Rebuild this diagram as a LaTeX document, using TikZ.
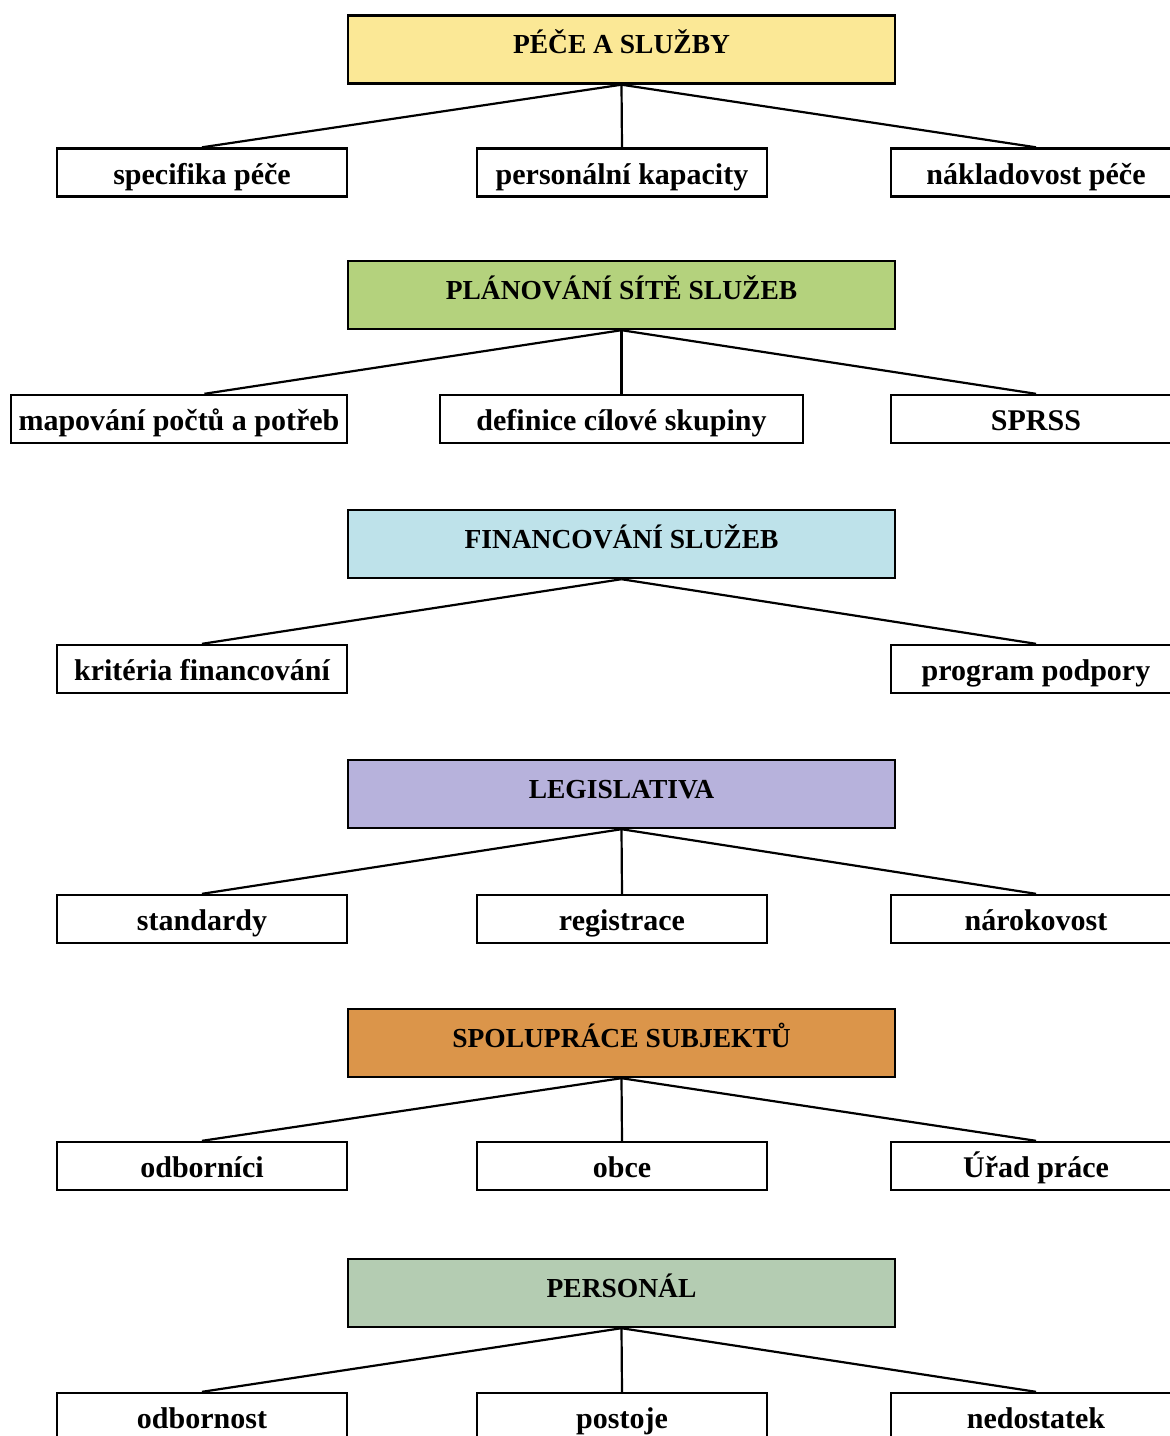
\documentclass[tikz,border=0pt]{standalone}
\usepackage{fontspec}
\setmainfont{Liberation Serif}
\usepackage{tikz}
\usetikzlibrary{positioning,calc}

\definecolor{pececol}{RGB}{251,232,150}
\definecolor{sitcol}{RGB}{180,210,125}
\definecolor{fincol}{RGB}{190,226,234}
\definecolor{legcol}{RGB}{183,178,220}
\definecolor{spocol}{RGB}{219,149,74}
\definecolor{percol}{RGB}{180,204,178}

\begin{document}
\begin{tikzpicture}[
  x=1pt, y=-1pt,
  topic/.style={draw, line width=2.4pt, minimum width=547pt, minimum height=68pt,
    font=\fontsize{27.5}{31}\selectfont\bfseries, inner sep=0pt,
    text height=8pt, text depth=0pt},
  item/.style={draw, fill=white, line width=2.4pt, minimum width=290pt, minimum height=48pt,
    font=\fontsize{30}{34}\selectfont\bfseries, inner sep=0pt,
    text height=23pt, text depth=0pt},
  tie/.style={line width=2.2pt}
]
\useasboundingbox (0,0) rectangle (1170,1436);

% PÉČE A SLUŽBY
\node[topic, fill=pececol] (pc) at (621.5,49.5) {PÉČE A SLUŽBY};
\node[item] (pcl) at (202,172.5) {specifika péče};
\node[item] (pcm) at (622,172.5) {personální kapacity};
\node[item] (pcr) at (1036,172.5) {nákladovost péče};
\draw[tie] (pc.south) -- (pcl.north);
\draw[tie] (pc.south) -- (pcm.north);
\draw[tie] (pc.south) -- (pcr.north);

% PLÁNOVÁNÍ SÍTĚ SLUŽEB
\node[topic, fill=sitcol] (st) at (621.5,295) {PLÁNOVÁNÍ SÍTĚ SLUŽEB};
\node[item, minimum width=336pt] (stl) at (179,419) {mapování počtů a potřeb};
\node[item, minimum width=363pt] (stm) at (621.5,419) {definice cílové skupiny};
\node[item] (str) at (1036,419) {SPRSS};
\draw[tie] (st.south) -- ($(stl.north west)!0.575!(stl.north east)$);
\draw[tie] (st.south) -- (stm.north);
\draw[tie] (st.south) -- (str.north);

% FINANCOVÁNÍ SLUŽEB
\node[topic, fill=fincol] (fn) at (621.5,544) {FINANCOVÁNÍ SLUŽEB};
\node[item] (fnl) at (202,669) {kritéria financování};
\node[item] (fnr) at (1036,669) {program podpory};
\draw[tie] (fn.south) -- (fnl.north);
\draw[tie] (fn.south) -- (fnr.north);

% LEGISLATIVA
\node[topic, fill=legcol] (lg) at (621.5,794) {LEGISLATIVA};
\node[item] (lgl) at (202,919) {standardy};
\node[item] (lgm) at (622,919) {registrace};
\node[item] (lgr) at (1036,919) {nárokovost};
\draw[tie] (lg.south) -- (lgl.north);
\draw[tie] (lg.south) -- (lgm.north);
\draw[tie] (lg.south) -- (lgr.north);

% SPOLUPRÁCE SUBJEKTŮ
\node[topic, fill=spocol] (sp) at (621.5,1043) {SPOLUPRÁCE SUBJEKTŮ};
\node[item] (spl) at (202,1166) {odborníci};
\node[item] (spm) at (622,1166) {obce};
\node[item] (spr) at (1036,1166) {Úřad práce};
\draw[tie] (sp.south) -- (spl.north);
\draw[tie] (sp.south) -- (spm.north);
\draw[tie] (sp.south) -- (spr.north);

% PERSONÁL
\node[topic, fill=percol] (ps) at (621.5,1293) {PERSONÁL};
\node[item] (psl) at (202,1417) {odbornost};
\node[item] (psm) at (622,1417) {postoje};
\node[item] (psr) at (1036,1417) {nedostatek};
\draw[tie] (ps.south) -- (psl.north);
\draw[tie] (ps.south) -- (psm.north);
\draw[tie] (ps.south) -- (psr.north);
\end{tikzpicture}
\end{document}
